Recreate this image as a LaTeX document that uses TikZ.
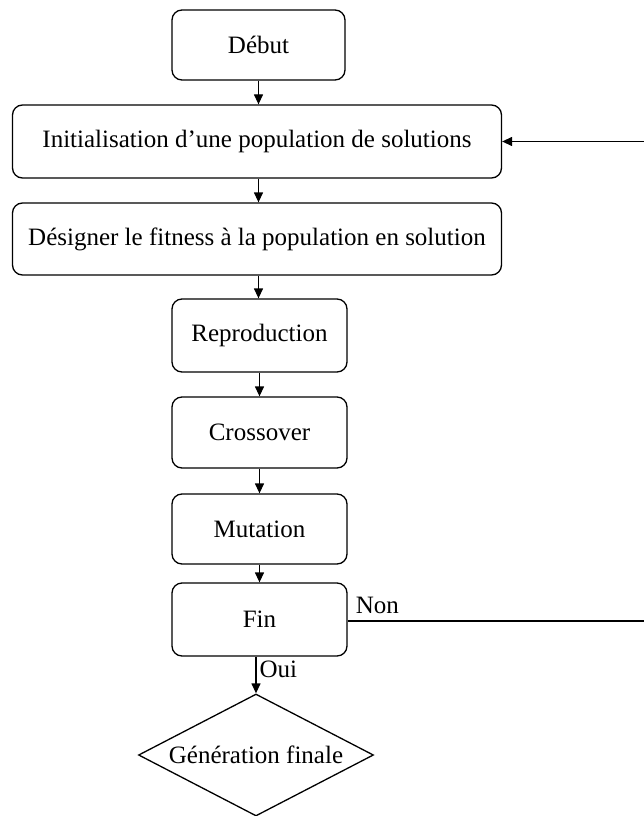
\documentclass[tikz,border=0pt]{standalone}
\usepackage{fontspec}
\setmainfont{Liberation Serif}
\usetikzlibrary{shapes.geometric,arrows.meta,calc}
\begin{document}
\begin{tikzpicture}[x=1bp,y=-1bp,
  every node/.style={font=\fontsize{25bp}{29bp}\selectfont},
  stepbox/.style={draw, line width=1.3bp, rounded corners=10bp, inner sep=0pt},
  smallbox/.style={stepbox, minimum width=175bp, minimum height=72bp},
  widebox/.style={stepbox, minimum width=489bp, minimum height=73bp},
  decision/.style={draw, line width=1.3bp, diamond, aspect=1.93, inner sep=0pt,
    minimum width=235bp, minimum height=122bp},
  flow/.style={line width=1.3bp, -{Triangle[width=9bp,length=10bp]}},
  plain/.style={line width=1.3bp},
  lbl/.style={inner sep=1bp}]
\useasboundingbox (0,0) rectangle (644,816);
\fill[white] (0,0) rectangle (644,816);

% process steps
\node[smallbox, minimum width=173bp, minimum height=70bp] (debut) at (258.5,45) {Début};
\node[widebox] (init) at (257,141.5) {Initialisation d’une population de solutions};
\node[widebox, minimum height=72bp] (fit) at (257,239) {Désigner le fitness à la population en solution};
\node[smallbox, minimum height=73bp] (repro) at (259.5,335.5) {Reproduction};
\node[smallbox, minimum height=71bp] (cross) at (259.5,432.5) {Crossover};
\node[smallbox, minimum height=70bp] (mut) at (259.5,529) {Mutation};
\node[smallbox, minimum height=73bp] (fin) at (259.5,619.5) {Fin};
\node[decision] (gen) at (256,755) {Génération finale};

% loop-back ends at the right border
\coordinate (loopout) at (644,621);
\coordinate (loopin) at (644,141.5);

% main flow
\draw[flow] (debut.south) -- (debut.south |- init.north);
\draw[flow] (init.south -| debut.south) -- (debut.south |- fit.north);
\draw[flow] (fit.south -| debut.south) -- (debut.south |- repro.north);
\draw[flow] (repro) -- (cross);
\draw[flow] (cross) -- (mut);
\draw[flow] (mut) -- (fin);
\draw[flow] (fin.south -| gen.north) -- (gen.north)
  node[lbl, pos=0.35, right, xshift=2bp] (oui) {Oui};

% "Non" branch back to initialisation
\draw[plain] (fin.east |- loopout) -- (loopout);
\node[lbl, anchor=south west] (non) at ($(fin.east |- loopout)+(7,-6)$) {Non};
\draw[flow] (loopin) -- (init.east);
\end{tikzpicture}
\end{document}
